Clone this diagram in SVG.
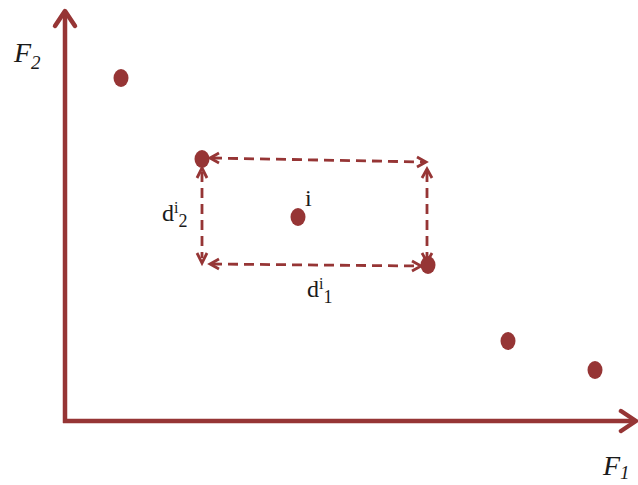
<svg xmlns="http://www.w3.org/2000/svg" width="638" height="485" viewBox="0 0 638 485">
<style>
.ax{stroke:#963535;stroke-width:4.5;fill:none}
.ah{stroke:#963535;stroke-width:4.5;fill:none;stroke-linecap:round;stroke-linejoin:round}
.ds{stroke:#963535;stroke-width:2.8;fill:none;stroke-dasharray:10,6}
.dh{stroke:#963535;stroke-width:2.8;fill:none}
.pt{fill:#963535}
.lb{font-family:"Liberation Serif",serif;fill:#1a1a1a}
</style>
<rect width="638" height="485" fill="#ffffff"/>
<g id="axes">
<line class="ax" x1="65" y1="423" x2="65" y2="12"/>
<polyline class="ah" points="55,26 65,11 75,26"/>
<line class="ax" x1="63" y1="421" x2="635" y2="421"/>
<polyline class="ah" points="621,411 636,421 621,431"/>
</g>
<g id="connectors">
<line class="ds" x1="212" y1="158" x2="425" y2="162"/>
<polyline class="dh" points="219,153 210,158 219,163"/>
<polyline class="dh" points="417,157 426,162 417,167"/>
<line class="ds" x1="427" y1="172" x2="427" y2="258"/>
<polyline class="dh" points="422,178 427,169 432,178"/>
<polyline class="dh" points="422,253 427,262 432,253"/>
<line class="ds" x1="202" y1="172" x2="202" y2="258"/>
<polyline class="dh" points="197,178 202,168 207,178"/>
<polyline class="dh" points="197,253 202,263 207,253"/>
<line class="ds" x1="212" y1="264" x2="418" y2="266"/>
<polyline class="dh" points="219,259 210,264 219,269"/>
<polyline class="dh" points="412,261 421,266 412,271"/>
</g>
<g id="p1"><ellipse class="pt" cx="121" cy="78" rx="7.5" ry="9"/></g>
<g id="p2"><ellipse class="pt" cx="202" cy="159" rx="7.5" ry="9"/></g>
<g id="p3"><ellipse class="pt" cx="298" cy="217" rx="7.5" ry="9"/></g>
<g id="p4"><ellipse class="pt" cx="428" cy="265" rx="7.5" ry="9"/></g>
<g id="p5"><ellipse class="pt" cx="508" cy="341" rx="7.5" ry="9"/></g>
<g id="p6"><ellipse class="pt" cx="595" cy="370" rx="7.5" ry="9"/></g>
<g id="labels">
<text class="lb" x="14" y="62" font-size="28" font-style="italic">F<tspan font-size="19" dy="7">2</tspan></text>
<text class="lb" x="603" y="475" font-size="28" font-style="italic">F<tspan font-size="19" dy="4">1</tspan></text>
<text class="lb" x="305" y="206" font-size="24">i</text>
<text class="lb" x="162" y="221" font-size="24">d<tspan font-size="16" dy="-8">i</tspan><tspan font-size="18" dx="0" dy="14">2</tspan></text>
<text class="lb" x="307" y="297" font-size="24">d<tspan font-size="16" dy="-8">i</tspan><tspan font-size="18" dx="0" dy="14">1</tspan></text>
</g>
</svg>
